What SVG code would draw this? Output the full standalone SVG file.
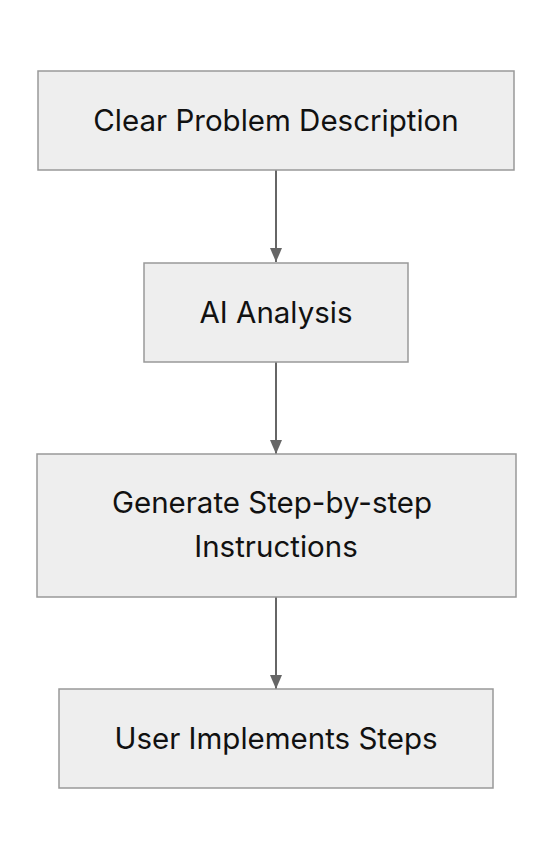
<svg xmlns="http://www.w3.org/2000/svg" width="552" height="860" viewBox="0 0 552 860">
<style>
.box{fill:#eeeeee;stroke:#999999;stroke-width:1.5}
.lbl{font-family:Inter,"Noto Sans",sans-serif;font-size:29.5px;fill:#111111;text-anchor:middle;dominant-baseline:central}
.edge{stroke:#666666;stroke-width:2;fill:none}
</style>
<defs>
<marker id="arr" viewBox="0 0 14 12" refX="14" refY="6" markerWidth="14" markerHeight="12" markerUnits="userSpaceOnUse" orient="auto">
<path d="M0,0 L14,6 L0,12 Z" fill="#666666"/>
</marker>
</defs>
<rect width="552" height="860" fill="#ffffff"/>
<g id="connectors">
<line class="edge" x1="276" y1="170" x2="276" y2="262" marker-end="url(#arr)"/>
<line class="edge" x1="276" y1="362" x2="276" y2="454" marker-end="url(#arr)"/>
<line class="edge" x1="276" y1="597" x2="276" y2="689" marker-end="url(#arr)"/>
</g>
<g id="n1"><rect class="box" x="38" y="71" width="476" height="99"/><text class="lbl" x="276" y="119.5">Clear Problem Description</text></g>
<g id="n2"><rect class="box" x="144" y="263" width="264" height="99"/><text class="lbl" x="276" y="311.5">AI Analysis</text></g>
<g id="n3"><rect class="box" x="37" y="454" width="479" height="143"/><text class="lbl" x="272" y="502">Generate Step-by-step</text><text class="lbl" x="276" y="546">Instructions</text></g>
<g id="n4"><rect class="box" x="59" y="689" width="434" height="99"/><text class="lbl" x="276" y="737.5">User Implements Steps</text></g>
</svg>
